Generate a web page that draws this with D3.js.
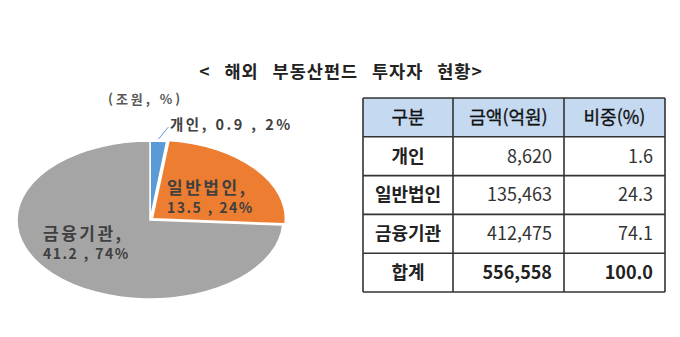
<!DOCTYPE html>
<html lang="ko">
<head>
<meta charset="UTF-8">
<title>해외 부동산펀드 투자자 현황</title>
<script src="https://cdn.jsdelivr.net/npm/d3@7"></script>
<style>
  html, body { margin: 0; padding: 0; background: #fff; }
  svg { display: block; font-family: "Noto Sans CJK KR", "Noto Sans", sans-serif; }
</style>
</head>
<body>
<svg id="chart" width="680" height="337"></svg>
<script>
// données du graphique
const categories = ['개인', '일반법인', '금융기관'];
const amountsJo = [0.9, 13.5, 41.2];      // 조원
const sharesPct = [2, 24, 74];            // %
const amountsEok = [8620, 135463, 412475]; // 억원
const sharesTable = [1.6, 24.3, 74.1];
const totalLabel = '합계';
const totalAmount = 556558;
const totalShare = 100.0;
const headers = ['구분', '금액(억원)', '비중(%)'];
const colors = ['#5b9bd5', '#ed7d31', '#a5a5a5'];

const svg = d3.select('#chart');

// titre
svg.append('text')
  .attr('x', 341).attr('y', 78)
  .attr('text-anchor', 'middle')
  .attr('font-size', 17.5).attr('font-weight', 'bold')
  .attr('fill', '#222')
  .attr('letter-spacing', 1)
  .attr('word-spacing', 8)
  .text('< 해외 부동산펀드 투자자 현황>');

// camembert aplati
const cx = 150, cy = 220, rx = 133, ry = 79;
const pie = d3.pie().sort(null).value(d => d.v);
const arc = d3.arc().innerRadius(0).outerRadius(rx);
const slices = pie(categories.map((c, i) => ({c: c, v: sharesPct[i], a: amountsJo[i], i: i})));

const pieG = svg.append('g')
  .attr('transform', 'translate(' + cx + ',' + cy + ') scale(1,' + (ry / rx) + ')');

pieG.selectAll('path').data(slices).enter()
  .append('path')
  .attr('d', arc)
  .attr('transform', d => {
    if (d.data.i != 1) return null;
    let m = (d.startAngle + d.endAngle) / 2;
    return 'translate(' + (Math.sin(m) * 3) + ',' + (-Math.cos(m) * 3) + ')';
  })
  .attr('fill', d => colors[d.data.i])
  .attr('stroke', '#fff')
  .attr('stroke-width', 1.5)
  .attr('vector-effect', 'non-scaling-stroke');

// étiquettes
const lab = svg.append('g')
  .attr('font-weight', 'bold')
  .attr('fill', '#404040');

lab.append('text')
  .attr('x', 108).attr('y', 104)
  .attr('font-size', 13).attr('fill', '#595959')
  .attr('letter-spacing', 3)
  .text('(조원, %)');

// 개인 : étiquette extérieure + ligne
let s0 = slices[0];
let m0 = (s0.startAngle + s0.endAngle) / 2;
let px = cx + Math.sin(m0) * rx, py = cy - Math.cos(m0) * ry;
svg.append('line')
  .attr('x1', px).attr('y1', py - 2)
  .attr('x2', px + 10).attr('y2', py - 14)
  .attr('stroke', '#5b9bd5').attr('stroke-width', 1);
lab.append('text')
  .attr('x', 170).attr('y', 130)
  .attr('font-size', 14.5)
  .attr('letter-spacing', 2.5)
  .text(categories[0] + ', ' + amountsJo[0] + ' , ' + sharesPct[0] + '%');

function label2(x, y, i) {
  let t = lab.append('text').attr('font-size', 17).attr('letter-spacing', 2.5);
  t.append('tspan').attr('x', x).attr('y', y).text(categories[i] + ',');
  t.append('tspan').attr('x', x).attr('y', y + 19).attr('font-size', 14).attr('letter-spacing', 1.5)
    .text(amountsJo[i] + ' , ' + sharesPct[i] + '%');
}
label2(167, 194, 1);
label2(43, 240, 2);

// tableau
const colX = [363, 453, 564, 665];
const rowsData = categories.map((c, i) => [c, d3.format(',')(amountsEok[i]), d3.format('.1f')(sharesTable[i])]);
rowsData.push([totalLabel, d3.format(',')(totalAmount), d3.format('.1f')(totalShare)]);

const yRow = d3.scaleBand().domain(d3.range(rowsData.length + 1)).range([98, 292]);
const tab = svg.append('g');

tab.append('rect')
  .attr('x', colX[0]).attr('y', yRow(0))
  .attr('width', colX[3] - colX[0]).attr('height', yRow.bandwidth())
  .attr('fill', '#c5d9f1');

// lignes horizontales
tab.selectAll('line.h').data(d3.range(rowsData.length + 2)).enter()
  .append('line').attr('class', 'h')
  .attr('x1', colX[0]).attr('x2', colX[3])
  .attr('y1', d => d <= rowsData.length ? yRow(d) : yRow.range()[1])
  .attr('y2', d => d <= rowsData.length ? yRow(d) : yRow.range()[1])
  .attr('stroke', '#333').attr('stroke-width', 1.6);
tab.selectAll('line.v').data(colX).enter()
  .append('line').attr('class', 'v')
  .attr('x1', d => d).attr('x2', d => d)
  .attr('y1', yRow.range()[0]).attr('y2', yRow.range()[1])
  .attr('stroke', '#333').attr('stroke-width', 1.6);

const txtSize = 18;
tab.selectAll('text.hd').data(headers).enter()
  .append('text').attr('class', 'hd')
  .attr('x', (d, i) => (colX[i] + colX[i + 1]) / 2)
  .attr('y', yRow(0) + yRow.bandwidth() / 2)
  .attr('dy', '0.36em')
  .attr('text-anchor', 'middle')
  .attr('font-size', txtSize)
  .attr('fill', '#111')
  .attr('stroke', '#111').attr('stroke-width', 0.3)
  .text(d => d);

rowsData.forEach((r, ri) => {
  let yy = yRow(ri + 1) + yRow.bandwidth() / 2;
  let last = ri == rowsData.length - 1;
  tab.append('text')
    .attr('x', (colX[0] + colX[1]) / 2).attr('y', yy).attr('dy', '0.36em')
    .attr('text-anchor', 'middle')
    .attr('font-size', txtSize).attr('font-weight', 'bold').attr('fill', '#222')
    .text(r[0]);
  for (let k = 1; k < 3; k++) {
    tab.append('text')
      .attr('x', colX[k + 1] - 12).attr('y', yy).attr('dy', '0.36em')
      .attr('text-anchor', 'end')
      .attr('font-size', txtSize)
      .attr('font-weight', last ? 'bold' : 'normal')
      .attr('fill', last ? '#222' : '#333')
      .text(r[k]);
  }
});
</script>
</body>
</html>
